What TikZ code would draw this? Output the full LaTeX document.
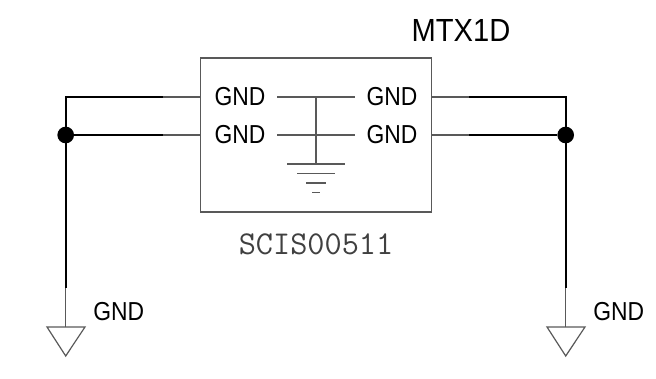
\documentclass[tikz,border=0pt]{standalone}
\usepackage{fontspec}
\setmainfont{Liberation Sans}
\newfontfamily\pinfont[FakeStretch=0.88]{Liberation Sans}
\newfontfamily\titlefont[FakeStretch=0.91]{Liberation Sans}
\tikzset{
  thinwire/.style={draw=black!65,line width=0.9pt},
  thickwire/.style={draw=black,line width=1.5pt},
  pinlabel/.style={inner sep=0pt,font=\pinfont\fontsize{19.5}{22}\selectfont},
  dotnode/.style={circle,fill=black,inner sep=0pt,minimum size=12.5pt}
}
\begin{document}
\begin{tikzpicture}[x=0.75pt,y=-0.75pt]
\useasboundingbox (0,0) rectangle (656,378);

% package outline
\node[thinwire,minimum width=172.8pt,minimum height=115.5pt,inner sep=0pt] (chip) at (316,135) {};
\node[inner sep=0pt,font=\titlefont\fontsize{24}{26}\selectfont] (title) at (461,30) {MTX1D};
\node[inner sep=0pt,text=black!75,font=\ttfamily\fontsize{25}{27}\selectfont] (partno) at (316,244) {SCIS00511};

% pin names
\node[pinlabel] (lup) at (240,97) {GND};
\node[pinlabel] (llo) at (240,135) {GND};
\node[pinlabel] (rup) at (392,97) {GND};
\node[pinlabel] (rlo) at (392,135) {GND};

% inside ground
\coordinate (inla) at (277,97);
\coordinate (inlb) at (277,135);
\coordinate (inra) at (355,97);
\coordinate (inrb) at (355,135);
\coordinate (intop) at (316,97);
\coordinate (inbot) at (316,164);
\draw[thinwire] (inla) -- (inra);
\draw[thinwire] (inlb) -- (inrb);
\draw[thinwire] (intop) -- (inbot);
\draw[thinwire] (287,164) -- (345,164);
\draw[thinwire] (297,173.5) -- (335,173.5);
\draw[thinwire] (306,183) -- (326,183);
\draw[thinwire] (312,192.5) -- (320,192.5);

% left side
\node[dotnode] (ldot) at (65.7,135) {};
\coordinate (lcorner) at (65.7,97);
\coordinate (la) at (163,97);
\coordinate (lb) at (163,135);
\coordinate (lpa) at (200.7,97);
\coordinate (lpb) at (200.7,135);
\coordinate (lc) at (65.7,288);
\coordinate (ld) at (65.7,327);
\draw[thickwire] (la) -- (lcorner) -- (lc);
\draw[thickwire] (ldot) -- (lb);
\draw[thinwire] (la) -- (lpa);
\draw[thinwire] (lb) -- (lpb);
\draw[thinwire] (lc) -- (ld);
\draw[thinwire] (47,327) -- (85,327) -- (65.7,356) -- cycle;
\node[pinlabel,anchor=west] (lgnd) at (93,312) {GND};

% right side
\node[dotnode] (rdot) at (565.7,135) {};
\coordinate (rcorner) at (565.7,97);
\coordinate (ra) at (469,97);
\coordinate (rb) at (469,135);
\coordinate (rpa) at (431,97);
\coordinate (rpb) at (431,135);
\coordinate (rc) at (565.7,288);
\coordinate (rd) at (565.7,327);
\draw[thickwire] (ra) -- (rcorner) -- (rc);
\draw[thickwire] (rdot) -- (rb);
\draw[thinwire] (ra) -- (rpa);
\draw[thinwire] (rb) -- (rpb);
\draw[thinwire] (rc) -- (rd);
\draw[thinwire] (547,327) -- (585,327) -- (565.7,356) -- cycle;
\node[pinlabel,anchor=west] (rgnd) at (593,312) {GND};

\end{tikzpicture}
\end{document}
